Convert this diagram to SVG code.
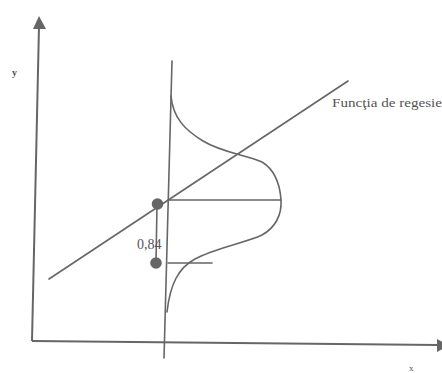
<svg xmlns="http://www.w3.org/2000/svg" width="442" height="373" viewBox="0 0 442 373">
<style>
.ln{stroke:#666;stroke-width:1.6;fill:none;stroke-linecap:round}
.ax{stroke:#666;stroke-width:2;fill:none}
.ah{fill:#666}
.t{font-family:"Liberation Serif",serif;fill:#555}
</style>
<rect width="442" height="373" fill="#fff"/>
<g id="axes">
<line class="ax" x1="32" y1="341" x2="39" y2="26"/>
<polygon class="ah" points="39,16 33,29 46,29"/>
<line class="ax" x1="32" y1="341" x2="438" y2="345"/>
<polygon class="ah" points="437,339 437,352 449,345.5"/>
<text class="t" x="12" y="76" font-size="10" font-weight="bold">y</text>
<text class="t" x="409" y="371" font-size="9">x</text>
</g>
<g id="connectors">
<line class="ln" x1="172" y1="61" x2="164" y2="358"/>
<line class="ln" x1="49" y1="279" x2="348" y2="81"/>
<path class="ln" d="M171,96 C173,118 185,130 203,141 S245,155 262,162 C275,170 280,185 281,200 C282,215 275,228 262,235 C245,243 215,248 195,259 C178,268 170,285 167,312"/>
<line class="ln" x1="168" y1="200" x2="281" y2="200"/>
<line class="ln" x1="168" y1="263" x2="212" y2="263"/>
<line class="ln" x1="157" y1="204" x2="156" y2="263"/>
</g>
<g id="points">
<circle cx="157.5" cy="204" r="5.8" fill="#666"/>
<circle cx="156" cy="263" r="5.8" fill="#666"/>
</g>
<g id="labels">
<text class="t" x="137" y="249" font-size="14">0,84</text>
<text class="t" x="332" y="107" font-size="12" textLength="110" lengthAdjust="spacingAndGlyphs">Funcţia de regesie</text>
</g>
</svg>
